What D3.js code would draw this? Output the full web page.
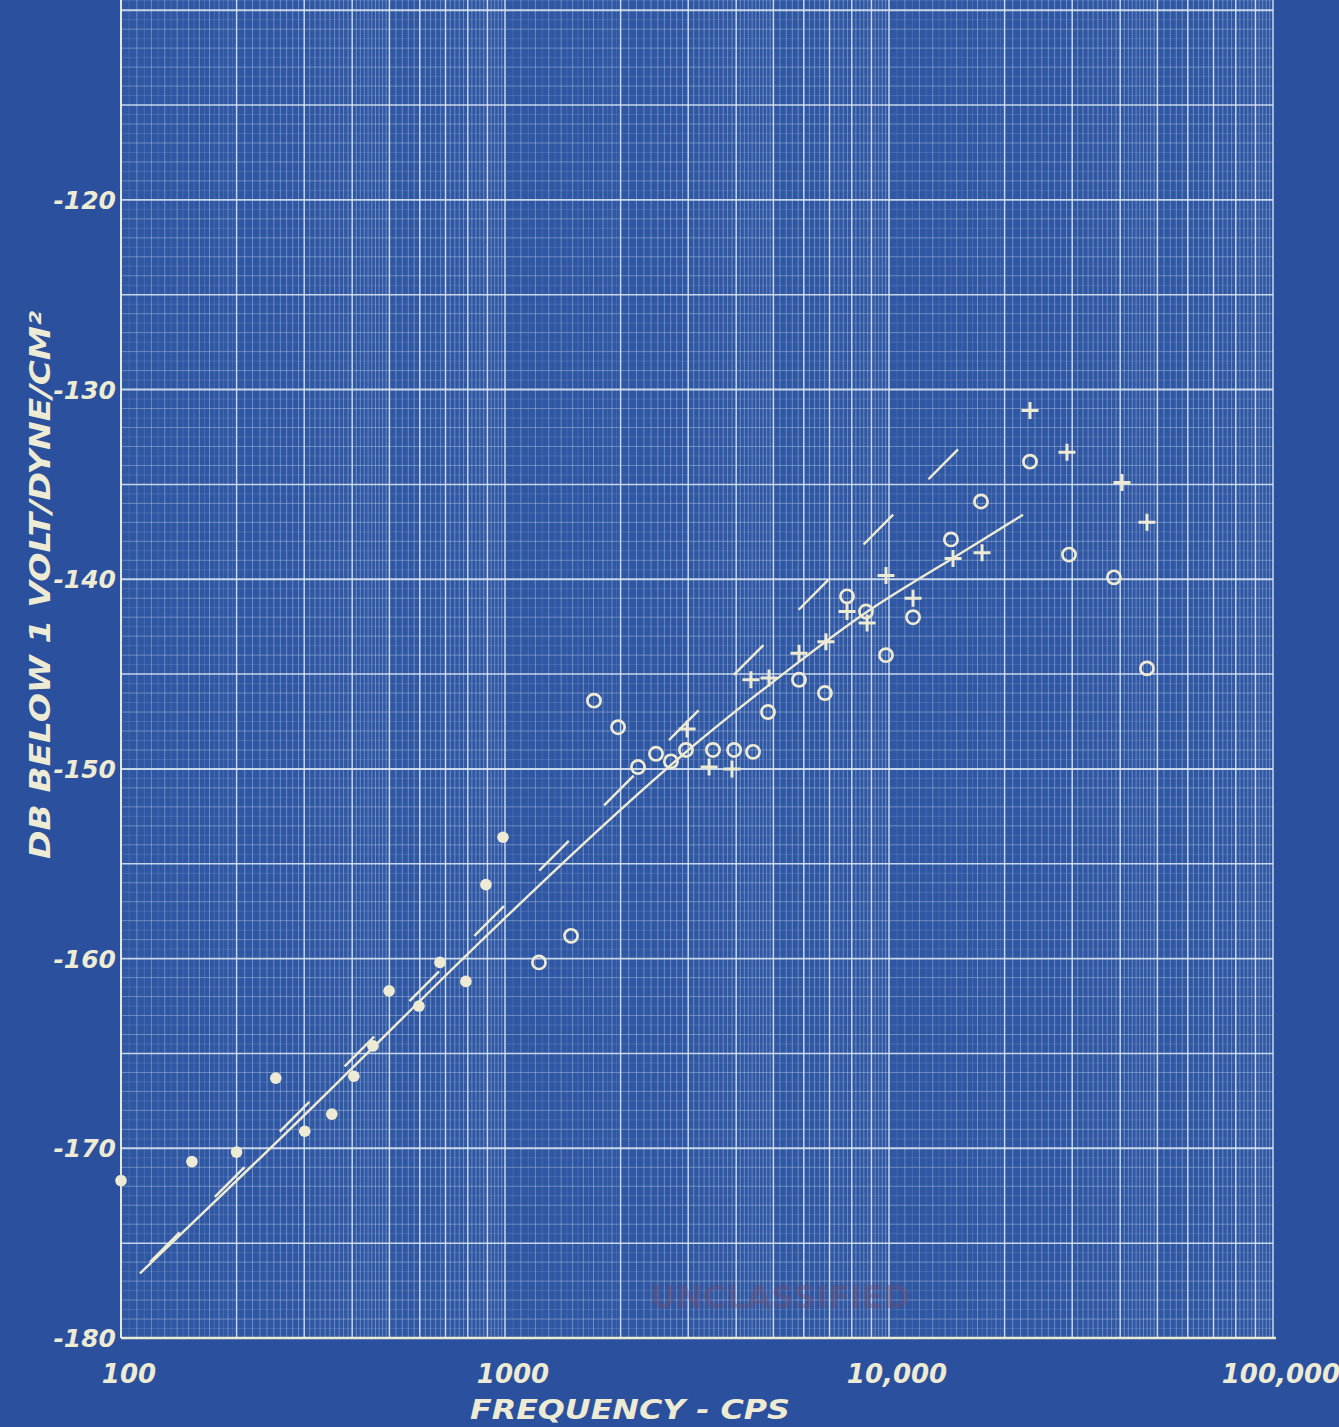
<!DOCTYPE html>
<html>
<head>
<meta charset="utf-8">
<script src="https://cdn.jsdelivr.net/npm/d3@7"></script>
<style>
  html, body { margin: 0; padding: 0; background: #2b509e; }
  svg { display: block; }
  text { font-family: "DejaVu Sans", sans-serif; font-style: oblique; font-weight: bold; fill: #eeebd4; }
</style>
</head>
<body>
<svg id="chart" width="1339" height="1427"></svg>
<script>
// values (frequency in cps, response in dB)
var dotFreq = [100, 153, 200, 253, 301, 354, 404, 453, 499, 597, 677, 791, 892, 988];
var dotDb   = [-171.7, -170.7, -170.2, -166.3, -169.1, -168.2, -166.2, -164.6, -161.7, -162.5, -160.2, -161.2, -156.1, -153.6];

var circleFreq = [1226, 1486, 1705, 1970, 2220, 2473, 2705, 2960, 3480, 3950, 4425, 4840,
                  5830, 6810, 7775, 8710, 9820, 11550, 14500, 17360, 23290, 29430, 38530, 46970];
var circleDb   = [-160.2, -158.8, -146.4, -147.8, -149.9, -149.2, -149.6, -149.0, -149.0, -149.0, -149.1, -147.0,
                  -145.3, -146.0, -140.9, -141.7, -144.0, -142.0, -137.9, -135.9, -133.8, -138.7, -139.9, -144.7];

var plusFreq = [2980, 3400, 3900, 4370, 4870, 5830, 6850, 7775, 8770, 9820, 11550, 14680, 17470, 23290, 29070, 40440, 46970];
var plusDb   = [-147.9, -149.9, -150.0, -145.3, -145.2, -143.9, -143.3, -141.7, -142.3, -139.8, -141.0, -138.9, -138.6, -131.1, -133.3, -134.9, -137.0];

// faired curve through the measurements
var fitFreq = [112, 112, 330, 600, 1300, 2980, 5865, 8765, 14420, 22340, 22340];
var fitDb   = [-176.6, -176.6, -167.5, -162.2, -155.6, -148.9, -144.3, -141.6, -139.0, -136.6, -136.6];

// dashed reference line
var refFreq = [119, 17050];
var refDb   = [-176.0, -132.1];

var xTicks = [100, 1000, 10000, 100000];
var xTickLabels = ["100", "1000", "10,000", "100,000"];
var yTicks = [-120, -130, -140, -150, -160, -170, -180];

var ink = "#eeebd4";
var gridInk = "#e2ecf7";

var svg = d3.select("#chart");

var x = d3.scaleLog().domain([100, 100000]).range([121, 1273]);
var y = d3.scaleLinear().domain([-180, -110]).range([1338, 10.2]);

// paper
svg.append("rect").attr("width", 1339).attr("height", 1427).attr("fill", "#2b509e");
svg.append("rect")
  .attr("x", x(100)).attr("y", 0)
  .attr("width", x(100000) - x(100)).attr("height", y(-180))
  .attr("fill", "#2f57a3");

// grid, vertical (log cycles)
var vLines = [];
[100, 1000, 10000].forEach(function(d){
  for (var k = 100; k < 1000; k += 5) {
    var m = k / 100, lvl = -1;
    if (k % 100 == 0) lvl = 2;
    else if (m < 2) lvl = (k % 10 == 0) ? 1 : 0;
    else if (m < 5) lvl = (k % 10 == 0) ? 1 : -1;
    else lvl = (k % 20 == 0) ? 1 : -1;
    if (lvl >= 0) vLines.push({v: m * d, lvl: lvl});
  }
});
vLines.push({v: 100000, lvl: 2});

var gridOpacity = [0.2, 0.38, 0.85];
var gridWidth = [0.7, 0.9, 1.5];

var g = svg.append("g");
g.selectAll("line.v").data(vLines).enter().append("line")
  .attr("x1", function(d){ return x(d.v); })
  .attr("x2", function(d){ return x(d.v); })
  .attr("y1", 0).attr("y2", y(-180))
  .attr("stroke", gridInk)
  .attr("stroke-opacity", function(d){ return gridOpacity[d.lvl]; })
  .attr("stroke-width", function(d){ return gridWidth[d.lvl]; });

// grid, horizontal (half dB)
var hLines = [];
for (var i = 0; i <= 141; i++) {
  var v = -180 + i * 0.5;
  var lvl = (i % 10 == 0) ? 2 : ((i % 2 == 0) ? 1 : 0);
  hLines.push({v: v, lvl: lvl});
}
g.selectAll("line.h").data(hLines).enter().append("line")
  .attr("x1", x(100)).attr("x2", x(100000))
  .attr("y1", function(d){ return y(d.v); })
  .attr("y2", function(d){ return y(d.v); })
  .attr("stroke", gridInk)
  .attr("stroke-opacity", function(d){ return gridOpacity[d.lvl]; })
  .attr("stroke-width", function(d){ return (d.lvl == 2 && d.v % 10 == 0) ? 1.9 : gridWidth[d.lvl]; });

// border
svg.append("line").attr("x1", x(100)).attr("x2", x(100000) + 3)
  .attr("y1", y(-180)).attr("y2", y(-180))
  .attr("stroke", ink).attr("stroke-width", 2.6);
svg.append("line").attr("x1", x(100)).attr("x2", x(100))
  .attr("y1", 0).attr("y2", y(-180))
  .attr("stroke", ink).attr("stroke-width", 1.8);

// stamp
svg.append("text")
  .attr("x", 780).attr("y", 1308)
  .attr("text-anchor", "middle")
  .style("font-size", "32px").style("font-style", "normal")
  .style("fill", "#744a6e").style("fill-opacity", 0.4)
  .text("UNCLASSIFIED");

// axis labels
svg.selectAll("text.ytick").data(yTicks).enter().append("text")
  .attr("x", 116).attr("y", function(d){ return y(d); })
  .attr("dy", "0.36em")
  .attr("text-anchor", "end")
  .style("font-size", "25px")
  .text(function(d){ return "-" + Math.abs(d); });

svg.selectAll("text.xtick").data(xTicks).enter().append("text")
  .attr("x", function(d){ return x(d) + 8; })
  .attr("y", 1383)
  .attr("text-anchor", "middle")
  .style("font-size", "26px")
  .text(function(d, i){ return xTickLabels[i]; });

svg.append("text")
  .attr("x", 470).attr("y", 1419)
  .attr("textLength", 320).attr("lengthAdjust", "spacingAndGlyphs")
  .style("font-size", "27px")
  .text("FREQUENCY - CPS");

svg.append("text")
  .attr("transform", "translate(50,585) rotate(-90)")
  .attr("text-anchor", "middle")
  .attr("textLength", 548).attr("lengthAdjust", "spacingAndGlyphs")
  .style("font-size", "28px")
  .text("DB BELOW 1 VOLT/DYNE/CM²");

// curves
var line = d3.line()
  .x(function(d){ return x(d[0]); })
  .y(function(d){ return y(d[1]); });

svg.append("path")
  .datum(d3.zip(refFreq, refDb))
  .attr("d", line)
  .attr("fill", "none").attr("stroke", ink)
  .attr("stroke-width", 2.4)
  .attr("stroke-dasharray", "42,50");

// end points doubled so the b-spline reaches them
svg.append("path")
  .datum(d3.zip(fitFreq, fitDb))
  .attr("d", line.curve(d3.curveBasis))
  .attr("fill", "none").attr("stroke", ink)
  .attr("stroke-width", 2.4);

// measured points
svg.selectAll("circle.dot").data(d3.zip(dotFreq, dotDb)).enter().append("circle")
  .attr("cx", function(d){ return x(d[0]); })
  .attr("cy", function(d){ return y(d[1]); })
  .attr("r", 5.8)
  .attr("fill", ink);

svg.selectAll("circle.ring").data(d3.zip(circleFreq, circleDb)).enter().append("circle")
  .attr("cx", function(d){ return x(d[0]); })
  .attr("cy", function(d){ return y(d[1]); })
  .attr("r", 6.6)
  .attr("fill", "none")
  .attr("stroke", ink).attr("stroke-width", 2.7);

svg.selectAll("path.plus").data(d3.zip(plusFreq, plusDb)).enter().append("path")
  .attr("transform", function(d){ return "translate(" + x(d[0]) + "," + y(d[1]) + ")"; })
  .attr("d", "M-8.5,0H8.5M0,-8.5V8.5")
  .attr("fill", "none")
  .attr("stroke", ink).attr("stroke-width", 3);
</script>
</body>
</html>
